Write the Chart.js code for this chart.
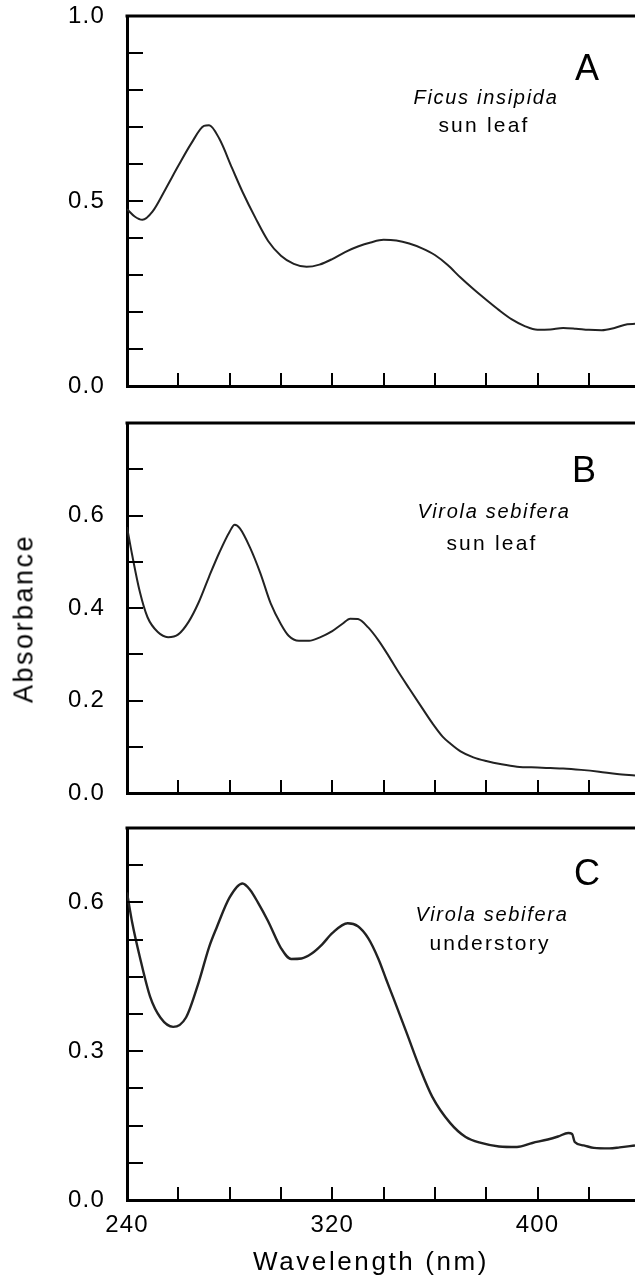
<!DOCTYPE html>
<html>
<head>
<meta charset="utf-8">
<script src="https://cdn.jsdelivr.net/npm/chart.js@4.4.0/dist/chart.umd.min.js"></script>
<style>
  html, body { margin: 0; padding: 0; background: #fff; }
  body { position: relative; width: 635px; height: 1285px; overflow: hidden;
         font-family: 'Liberation Sans', Arial, sans-serif; color: #000; }
  canvas { position: absolute; left: 0; }
  .lbl { position: absolute; white-space: nowrap; line-height: 1; transform: translateX(-50%); }
  .it { font-style: italic; }
</style>
</head>
<body>
<canvas id="chartA" width="635" height="400" style="top:0px"></canvas>
<canvas id="chartB" width="635" height="410" style="top:400px"></canvas>
<canvas id="chartC" width="635" height="480" style="top:805px"></canvas>

<div class="lbl" style="left:587px; top:49.5px; font-size:36px;">A</div>
<div class="lbl it" style="left:486px; top:87px; font-size:20px; letter-spacing:1.7px;">Ficus insipida</div>
<div class="lbl" style="left:484px; top:114px; font-size:21px; letter-spacing:2.2px;">sun leaf</div>

<div class="lbl" style="left:584px; top:451.5px; font-size:36px;">B</div>
<div class="lbl it" style="left:494px; top:501px; font-size:20px; letter-spacing:1.7px;">Virola sebifera</div>
<div class="lbl" style="left:492px; top:532px; font-size:21px; letter-spacing:2.2px;">sun leaf</div>

<div class="lbl" style="left:587px; top:854.5px; font-size:36px;">C</div>
<div class="lbl it" style="left:492px; top:904px; font-size:20px; letter-spacing:1.7px;">Virola sebifera</div>
<div class="lbl" style="left:490px; top:932px; font-size:21px; letter-spacing:2.2px;">understory</div>

<div style="position:absolute; left:-76px; top:605px; width:200px; height:27px; line-height:27px;
            text-align:center; font-size:27px; letter-spacing:2.5px; transform:rotate(-90deg);">Absorbance</div>
<div class="lbl" style="left:371px; top:1248px; font-size:26px; letter-spacing:2.6px;">Wavelength (nm)</div>

<script>
// Panel A: Ficus insipida, sun leaf
const wavelengthA = [240, 243, 246, 250, 255, 260, 265, 270, 272, 276, 281, 285, 290, 295, 300, 305, 310,
  315, 320, 325, 330, 335, 340, 345, 350, 355, 360, 365, 370, 375, 380, 385, 390, 395, 400, 405, 410,
  415, 420, 425, 430, 435, 438];
const absorbanceA = [0.478, 0.458, 0.449, 0.472, 0.532, 0.595, 0.655, 0.703, 0.705, 0.668, 0.588, 0.525,
  0.455, 0.392, 0.352, 0.330, 0.322, 0.328, 0.343, 0.362, 0.377, 0.388, 0.395, 0.393, 0.385, 0.372,
  0.354, 0.327, 0.293, 0.262, 0.233, 0.205, 0.180, 0.162, 0.152, 0.153, 0.157, 0.155, 0.152, 0.151,
  0.157, 0.167, 0.168];

// Panel B: Virola sebifera, sun leaf
const wavelengthB = [240, 242, 245, 248, 252, 256, 260, 264, 268, 272, 276, 280, 282, 284, 288, 292, 296,
  300, 303, 307, 311, 315, 320, 324, 327, 330, 334, 338, 342, 346, 350, 355, 359, 363, 366, 370, 375,
  380, 386, 392, 400, 405, 410, 417, 424, 431, 438];
const absorbanceB = [0.575, 0.515, 0.435, 0.380, 0.348, 0.337, 0.343, 0.370, 0.413, 0.468, 0.520, 0.565,
  0.580, 0.572, 0.530, 0.475, 0.410, 0.365, 0.340, 0.329, 0.329, 0.336, 0.350, 0.366, 0.377, 0.376,
  0.358, 0.330, 0.296, 0.260, 0.226, 0.184, 0.151, 0.122, 0.107, 0.090, 0.077, 0.069, 0.062, 0.057,
  0.055, 0.054, 0.053, 0.050, 0.046, 0.041, 0.038];

// Panel C: Virola sebifera, understory
const wavelengthC = [240, 242, 245, 249, 253, 258, 263, 268, 272, 275, 280, 285, 288, 291, 295, 300, 304,
  308, 312, 316, 320, 326, 330, 334, 338, 341, 344, 349, 354, 359, 366, 372, 378, 385, 392, 398, 404,
  408, 412, 413.5, 414.5, 418, 422, 428, 432, 438];
const absorbanceC = [0.620, 0.560, 0.490, 0.410, 0.368, 0.349, 0.368, 0.440, 0.510, 0.550, 0.610, 0.638,
  0.625, 0.600, 0.562, 0.508, 0.486, 0.487, 0.497, 0.515, 0.538, 0.558, 0.552, 0.528, 0.486, 0.445,
  0.405, 0.337, 0.268, 0.208, 0.155, 0.127, 0.115, 0.108, 0.107, 0.115, 0.122, 0.128, 0.135, 0.133,
  0.117, 0.110, 0.105, 0.104, 0.106, 0.110];

// labelled ticks
const xLabels = [240, 320, 400];
const yLabelsA = [0, 0.5, 1.0];
const yLabelsB = [0, 0.2, 0.4, 0.6];
const yLabelsC = [0, 0.3, 0.6];

Chart.defaults.font.family = "'Liberation Sans', Arial, sans-serif";
Chart.defaults.font.size = 24;
Chart.defaults.color = '#000';

const hasLabel = (list, v) => list.some(t => Math.abs(t - v) < 1e-6);

// inward tick marks, top frame line, and wide letter spacing for tick text
const framePlugin = {
  id: 'frame',
  beforeDraw(chart) {
    chart.ctx.letterSpacing = '1.2px';
  },
  afterDraw(chart) {
    const { ctx, chartArea: a, scales: { x, y } } = chart;
    ctx.save();
    ctx.letterSpacing = '0px';
    ctx.strokeStyle = '#000';
    ctx.lineWidth = 2;
    ctx.beginPath();
    y.ticks.forEach(t => {
      if (t.value <= y.min + 1e-6 || t.value >= y.max - 1e-6) return;
      const py = Math.round(y.getPixelForValue(t.value));
      ctx.moveTo(a.left, py);
      ctx.lineTo(a.left + 16, py);
    });
    x.ticks.forEach(t => {
      if (t.value <= x.min || t.value >= x.max) return;
      const px = Math.round(x.getPixelForValue(t.value));
      ctx.moveTo(px, a.bottom);
      ctx.lineTo(px, a.bottom - 13);
    });
    ctx.stroke();
    ctx.lineWidth = 3;
    ctx.beginPath();
    ctx.moveTo(a.left - 1.5, a.top);
    ctx.lineTo(a.right, a.top);
    ctx.stroke();
    ctx.restore();
  }
};

function makePanel(id, wl, abs, yMax, yStep, yLabels, padTop, xHeight, showX, lineWidth) {
  return new Chart(document.getElementById(id), {
    type: 'line',
    data: {
      datasets: [{
        data: wl.map((w, i) => ({ x: w, y: abs[i] })),
        borderColor: '#222',
        borderWidth: lineWidth,
        pointRadius: 0,
        cubicInterpolationMode: 'monotone',
        fill: false
      }]
    },
    options: {
      responsive: false,
      animation: false,
      devicePixelRatio: 1,
      layout: { padding: { top: padTop, left: 0, right: 0, bottom: 0 }, autoPadding: false },
      plugins: { legend: { display: false }, tooltip: { enabled: false } },
      scales: {
        x: {
          type: 'linear', min: 240, max: 438,
          grid: { display: false, drawTicks: false },
          border: { display: true, width: 3, color: '#000' },
          ticks: {
            display: showX, stepSize: 20, includeBounds: false, autoSkip: false,
            maxRotation: 0, padding: 11,
            callback: v => xLabels.includes(v) ? String(v) : ''
          },
          afterFit: s => { s.height = xHeight; s.paddingLeft = 0; s.paddingRight = 0; }
        },
        y: {
          min: 0, max: yMax,
          grid: { display: false, drawTicks: false },
          border: { display: true, width: 3, color: '#000' },
          ticks: {
            stepSize: yStep, autoSkip: false, padding: 22,
            callback: v => hasLabel(yLabels, v) ? v.toFixed(1) : ''
          },
          afterFit: s => { s.width = 127; s.paddingTop = 0; s.paddingBottom = 0; }
        }
      }
    },
    plugins: [framePlugin]
  });
}

makePanel('chartA', wavelengthA, absorbanceA, 1.0, 0.1, yLabelsA, 16, 14, false, 2);
makePanel('chartB', wavelengthB, absorbanceB, 0.8, 0.1, yLabelsB, 23, 17, false, 2);
makePanel('chartC', wavelengthC, absorbanceC, 0.75, 0.075, yLabelsC, 23, 85, true, 2.4);
</script>
</body>
</html>
